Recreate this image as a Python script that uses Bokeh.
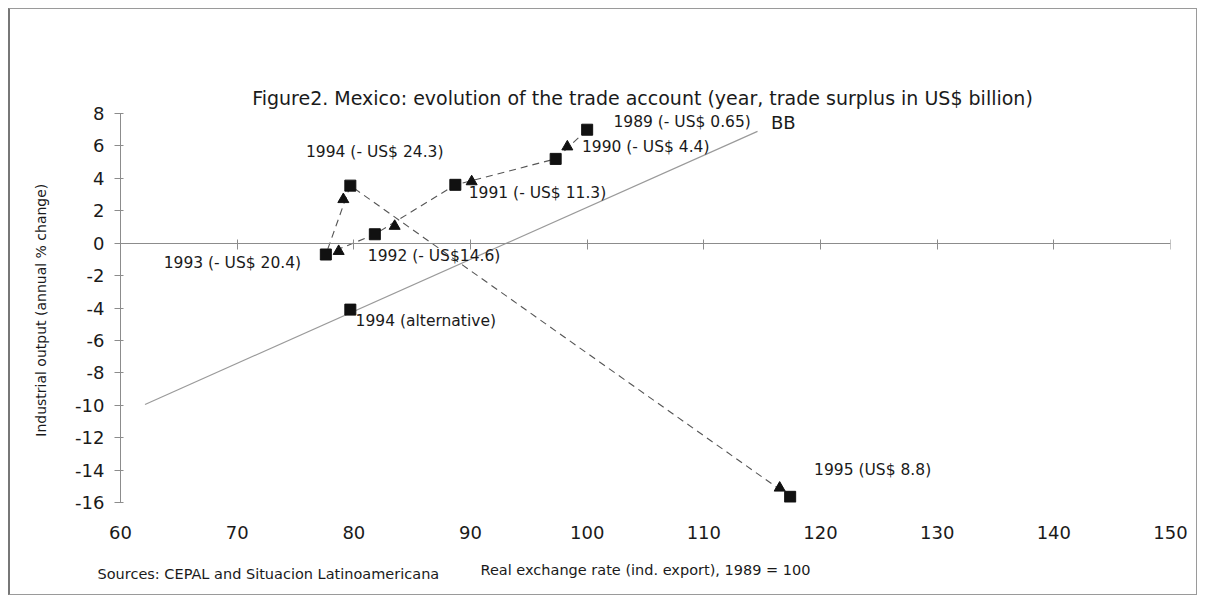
from bokeh.plotting import figure
from bokeh.models import Label, LinearAxis, FixedTicker, Range1d, Title
from bokeh.embed import file_html
from bokeh.resources import INLINE

# ---------------- data ----------------
years = ["1989", "1990", "1991", "1992", "1993", "1994", "1995"]
rer = [100.0, 97.3, 88.7, 81.8, 77.6, 79.7, 117.4]          # real exchange rate, 1989 = 100
output = [7.0, 5.2, 3.6, 0.55, -0.7, 3.55, -15.65]          # industrial output, annual % change
point_labels = ["1989 (- US$ 0.65)", "1990 (- US$ 4.4)", "1991 (- US$ 11.3)",
                "1992 (- US$14.6)", "1993 (- US$ 20.4)", "1994 (- US$ 24.3)",
                "1995 (US$ 8.8)"]
alt_rer = [79.7]
alt_output = [-4.1]
alt_label = "1994 (alternative)"
arrow_rer = [98.3, 90.1, 83.5, 78.7, 79.1, 116.5]
arrow_output = [5.95, 3.8, 1.05, -0.5, 2.7, -15.1]
bb_rer = [62.1, 114.6]
bb_output = [-9.95, 6.9]
x_ticks = [60, 70, 80, 90, 100, 110, 120, 130, 140, 150]
y_ticks = [-16, -14, -12, -10, -8, -6, -4, -2, 0, 2, 4, 6, 8]

title_text = "Figure2. Mexico: evolution of the trade account (year,  trade surplus in US$ billion)"
y_title = "Industrial output (annual  % change)"
x_title = "Real exchange rate (ind. export), 1989 = 100"
source_text = "Sources: CEPAL and Situacion Latinoamericana"

# ---------------- annotation positions (data coords) ----------------
label_x = [102.25, 99.55, 89.85, 81.2, 63.7, 75.9, 119.45]
label_y = [7.5, 5.95, 3.1, -0.8, -1.2, 5.6, -14.0]
alt_label_pos = (80.15, -4.8)
bb_label_pos = (115.75, 7.45)

FONT = "DejaVu Sans"
TXT = "#1a1a1a"
AX = "#8c8c8c"

p = figure(width=1189, height=587, output_backend="svg", toolbar_location=None,
           x_range=Range1d(60, 150), y_range=Range1d(-16, 8),
           min_border_left=110, min_border_right=29, min_border_top=104, min_border_bottom=94,
           outline_line_color=None, background_fill_color="white", border_fill_color="white")
p.styles = {"border": "1px solid #9a9a9a", "border-left": "2px solid #777777",
            "margin-left": "8px", "margin-top": "8px"}
p.grid.visible = False

xa = p.below[0]   # default x axis -> drawn on the zero line
ya = p.left[0]

# invisible spacer axis above the frame (lifts the title)
spacer = LinearAxis(ticker=FixedTicker(ticks=x_ticks))
spacer.axis_line_color = None
spacer.major_tick_line_color = None
spacer.minor_tick_line_color = None
spacer.major_tick_in = 0
spacer.major_tick_out = 0
spacer.major_label_text_color = None
spacer.major_label_text_font_size = "11px"
spacer.major_label_standoff = 33
p.add_layout(spacer, "above")

# title
p.title = Title(text=title_text, align="center", text_font=FONT, text_font_size="19px",
                text_font_style="normal", text_color=TXT, standoff=10)

# x axis on the zero line (line + ticks only)
xa.fixed_location = 0
xa.ticker = FixedTicker(ticks=x_ticks)
xa.axis_line_color = AX
xa.major_tick_line_color = AX
xa.major_tick_in = 4
xa.major_tick_out = 6
xa.minor_tick_line_color = None
xa.major_label_text_color = None
xa.major_label_text_font_size = "1px"
xa.major_label_standoff = 0

# x tick labels at the bottom
xb = LinearAxis(ticker=FixedTicker(ticks=x_ticks))
xb.axis_line_color = None
xb.major_tick_line_color = None
xb.minor_tick_line_color = None
xb.major_tick_in = 0
xb.major_tick_out = 0
xb.major_label_standoff = 23
xb.major_label_text_font = FONT
xb.major_label_text_font_size = "18px"
xb.major_label_text_color = TXT
xb.axis_label = x_title
xb.axis_label_text_font = FONT
xb.axis_label_text_font_size = "14.5px"
xb.axis_label_text_font_style = "normal"
xb.axis_label_text_color = TXT
xb.axis_label_standoff = 20
p.add_layout(xb, "below")

p.add_layout(Title(text=source_text, align="left", offset=-23, text_font=FONT,
                   text_font_size="14.5px", text_font_style="normal", text_color=TXT,
                   vertical_align="top", standoff=-29), "below")

ya.ticker = FixedTicker(ticks=y_ticks)
ya.major_label_overrides = {t: str(t) for t in y_ticks}
ya.axis_line_color = AX
ya.major_tick_line_color = AX
ya.major_tick_in = 3
ya.major_tick_out = 6
ya.minor_tick_line_color = None
ya.major_label_standoff = 10
ya.major_label_text_font = FONT
ya.major_label_text_font_size = "18px"
ya.major_label_text_color = TXT
ya.axis_label = y_title
ya.axis_label_text_font = FONT
ya.axis_label_text_font_size = "14px"
ya.axis_label_text_font_style = "normal"
ya.axis_label_text_color = TXT
ya.axis_label_standoff = 23

# BB line
p.line(bb_rer, bb_output, line_color="#9a9a9a", line_width=1.2)

# path of the economy
p.line(rer, output, line_color="#555555", line_width=1.1, line_dash="7 5")

# markers
p.scatter(rer, output, marker="square", size=11, fill_color="#111111", line_color="#111111")
p.scatter(alt_rer, alt_output, marker="square", size=11, fill_color="#111111", line_color="#111111")
p.scatter(arrow_rer, arrow_output, marker="triangle", size=11, fill_color="#111111", line_color="#111111")

# labels
for t, lx, ly in zip(point_labels, label_x, label_y):
    p.add_layout(Label(x=lx, y=ly, text=t, text_font=FONT, text_font_size="15.5px",
                       text_color=TXT, text_baseline="middle", text_align="left"))
p.add_layout(Label(x=alt_label_pos[0], y=alt_label_pos[1], text=alt_label, text_font=FONT,
                   text_font_size="15.5px", text_color=TXT, text_baseline="middle"))
p.add_layout(Label(x=bb_label_pos[0], y=bb_label_pos[1], text="BB", text_font=FONT,
                   text_font_size="18px", text_color=TXT, text_baseline="middle"))

open("out.html", "w").write(file_html(p, INLINE))
